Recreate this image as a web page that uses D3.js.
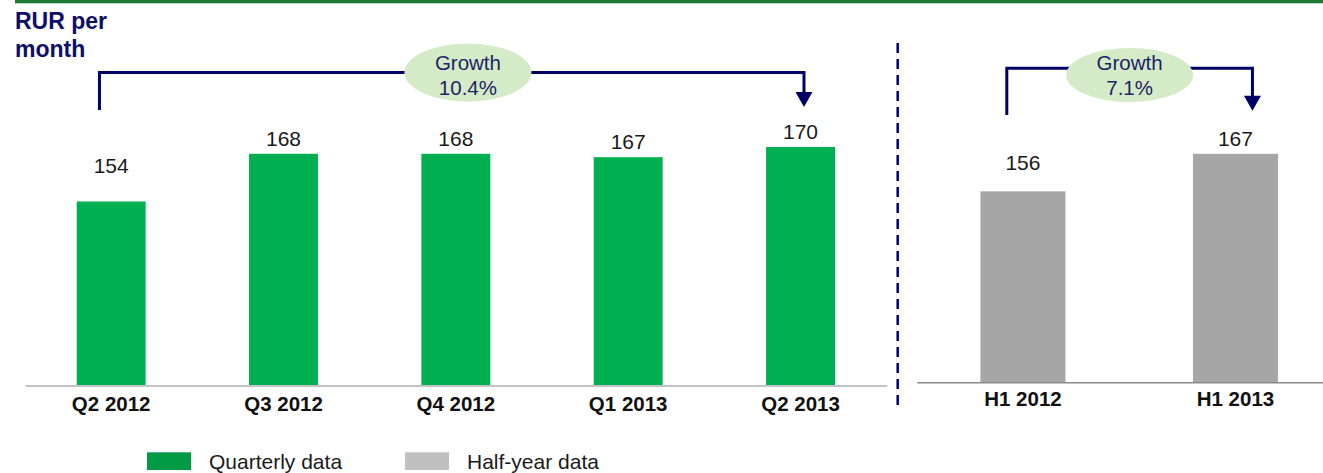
<!DOCTYPE html>
<html>
<head>
<meta charset="utf-8">
<script src="https://cdn.jsdelivr.net/npm/d3@7/dist/d3.min.js"></script>
<style>
  html, body { margin: 0; padding: 0; background: #ffffff; }
  svg { display: block; font-family: "Liberation Sans", Arial, sans-serif; }
</style>
</head>
<body>
<svg id="chart" width="1323" height="473"></svg>
<script>
// Average revenue, RUR per month
const quarterCategories = ["Q2 2012", "Q3 2012", "Q4 2012", "Q1 2013", "Q2 2013"];
const quarterValues = [154, 168, 168, 167, 170];
const halfYearCategories = ["H1 2012", "H1 2013"];
const halfYearValues = [156, 167];
const legendLabels = ["Quarterly data", "Half-year data"];
const titleLines = ["RUR per", "month"];

const W = 1323, H = 473;
const svg = d3.select("#chart");
const NAVY = "#000066";
const TEXT_NAVY = "#1c2468";

// Top rule and title
svg.append("rect").attr("x", 15).attr("y", 0).attr("width", W - 15).attr("height", 3.3)
  .attr("fill", "#1d7b36");
svg.append("text").attr("x", 15).attr("y", 29)
  .attr("font-size", 23).attr("font-weight", "bold").attr("fill", "#0d0d6b")
  .selectAll("tspan").data(titleLines).join("tspan")
  .attr("x", 15).attr("dy", (d, i) => i === 0 ? 0 : 28).text(d => d);

// Panel definitions: scales built from the data arrays
const panels = [
  {
    cats: quarterCategories, vals: quarterValues,
    x: d3.scaleBand().domain(quarterCategories).range([25, 886.7]).paddingInner(0.6).paddingOuter(0.3),
    y: d3.scaleLinear().domain([100, 180]).range([385.5, 112.9]),
    fill: "#00b050", axisColor: "#c4c4c4", axisWidth: 2, tickPad: 11,
    bracket: { y: 72.5, legBottom: 110, tipY: 107, leftFrac: 0.33, rightFrac: 0.55, labelFrac: 0.523, cy: 72.5, ry: 29 }
  },
  {
    cats: halfYearCategories, vals: halfYearValues,
    x: d3.scaleBand().domain(halfYearCategories).range([916.7, 1341.7]).paddingInner(0.6).paddingOuter(0.3),
    y: d3.scaleLinear().domain([100, 180]).range([382.3, 109.5]),
    fill: "#a6a6a6", axisColor: "#8a8a8a", axisWidth: 1.5, tickPad: 9.5,
    bracket: { y: 68.3, legBottom: 115, tipY: 110.7, leftFrac: 0.31, rightFrac: 0.70, labelFrac: 0.5, cy: 75, ry: 27 }
  }
];

// Value labels never sit lower than the level of this value
const LABEL_FLOOR = 160;

panels.forEach(p => {
  const g = svg.append("g");
  const data = p.cats.map((c, i) => ({ cat: c, val: p.vals[i] }));

  g.selectAll("rect.bar").data(data).join("rect").attr("class", "bar")
    .attr("x", d => p.x(d.cat)).attr("width", p.x.bandwidth())
    .attr("y", d => p.y(d.val)).attr("height", d => p.y(100) - p.y(d.val))
    .attr("fill", p.fill);

  const axis = g.append("g").attr("transform", `translate(0,${p.y(100)})`)
    .call(d3.axisBottom(p.x).tickSize(0).tickPadding(p.tickPad).tickSizeOuter(0));
  axis.select(".domain").attr("stroke", p.axisColor).attr("stroke-width", p.axisWidth);
  axis.selectAll("text").attr("font-size", 20.5).attr("font-weight", "bold")
    .attr("fill", "#111111").attr("font-family", "Liberation Sans, Arial, sans-serif");

  g.selectAll("text.val").data(data).join("text").attr("class", "val")
    .attr("x", d => p.x(d.cat) + p.x.bandwidth() / 2)
    .attr("y", d => Math.min(p.y(d.val), p.y(LABEL_FLOOR)) - 8)
    .attr("text-anchor", "middle").attr("font-size", 21).attr("fill", "#1a1a1a")
    .text(d => d.val);

  // Growth bracket from first to last bar
  const b = p.bracket;
  const first = data[0], last = data[data.length - 1];
  const xL = p.x(first.cat) + p.x.bandwidth() * b.leftFrac;
  const xR = p.x(last.cat) + p.x.bandwidth() * b.rightFrac;
  const headH = 15, headW = 17;
  g.append("path")
    .attr("d", `M${xL},${b.legBottom}V${b.y}H${xR}V${b.tipY - headH + 1}`)
    .attr("fill", "none").attr("stroke", NAVY).attr("stroke-width", 3);
  g.append("path")
    .attr("d", `M${xR - headW / 2},${b.tipY - headH}L${xR + headW / 2},${b.tipY - headH}L${xR},${b.tipY}Z`)
    .attr("fill", NAVY);

  const growth = (last.val / first.val - 1) * 100;
  const cx = xL + (xR - xL) * b.labelFrac;
  g.append("ellipse").attr("cx", cx).attr("cy", b.cy).attr("rx", 63.5).attr("ry", b.ry)
    .attr("fill", "#d5eac6");
  g.append("text").attr("text-anchor", "middle").attr("font-size", 20.5).attr("fill", TEXT_NAVY)
    .selectAll("tspan").data(["Growth", growth.toFixed(1) + "%"]).join("tspan")
    .attr("x", cx).attr("y", (d, i) => 70 + i * 25).text(d => d);
});

// Dashed divider between the quarterly and half-year panels
svg.append("line").attr("x1", 897.7).attr("x2", 897.7).attr("y1", 43).attr("y2", 408)
  .attr("stroke", NAVY).attr("stroke-width", 2.5).attr("stroke-dasharray", "10,6");

// Legend
const legendColors = ["#009a44", "#c0c0c0"];
const legendX = [147, 405];
const lg = svg.append("g");
legendLabels.forEach((lab, i) => {
  lg.append("rect").attr("x", legendX[i]).attr("y", 452.3).attr("width", 44).attr("height", 17.7)
    .attr("fill", legendColors[i]);
  lg.append("text").attr("x", legendX[i] + 62).attr("y", 468.5).attr("font-size", 21)
    .attr("fill", "#1a1a1a").text(lab);
});
</script>
</body>
</html>
